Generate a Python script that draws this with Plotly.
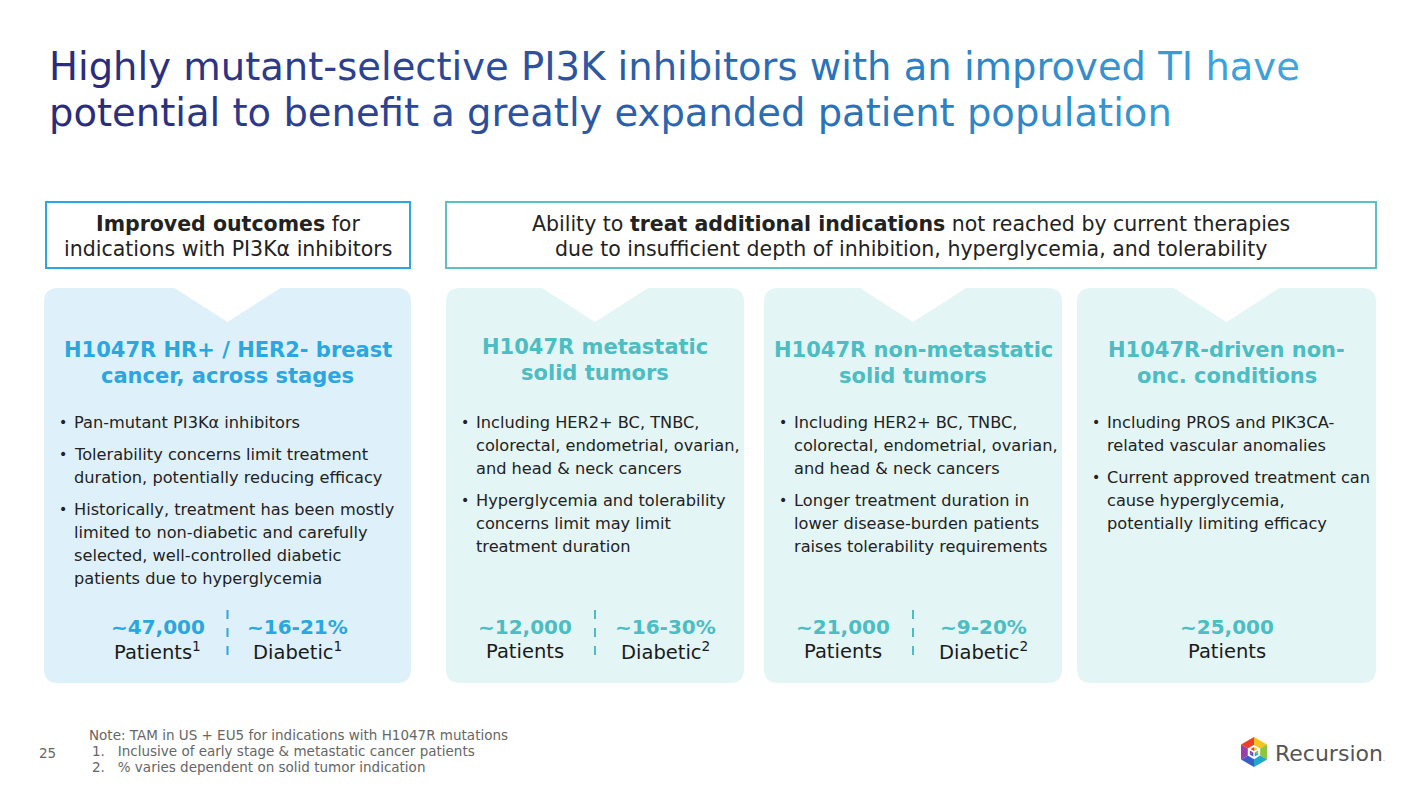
import math
import plotly.graph_objects as go

# ---- slide content ----
title_lines = [
    "Highly mutant-selective PI3K inhibitors with an improved TI have",
    "potential to benefit a greatly expanded patient population",
]

header_texts = [
    ["<b>Improved outcomes</b> for", "indications with PI3Kα inhibitors"],
    ["Ability to <b>treat additional indications</b> not reached by current therapies",
     "due to insufficient depth of inhibition, hyperglycemia, and tolerability"],
]

card_titles = [
    ["H1047R HR+ / HER2- breast", "cancer, across stages"],
    ["H1047R metastatic", "solid tumors"],
    ["H1047R non-metastatic", "solid tumors"],
    ["H1047R-driven non-", "onc. conditions"],
]

card_bullets = [
    [["Pan-mutant PI3Kα inhibitors"],
     ["Tolerability concerns limit treatment", "duration, potentially reducing efficacy"],
     ["Historically, treatment has been mostly", "limited to non-diabetic and carefully",
      "selected, well-controlled diabetic", "patients due to hyperglycemia"]],
    [["Including HER2+ BC, TNBC,", "colorectal, endometrial, ovarian,", "and head & neck cancers"],
     ["Hyperglycemia and tolerability", "concerns limit may limit", "treatment duration"]],
    [["Including HER2+ BC, TNBC,", "colorectal, endometrial, ovarian,", "and head & neck cancers"],
     ["Longer treatment duration in", "lower disease-burden patients", "raises tolerability requirements"]],
    [["Including PROS and PIK3CA-", "related vascular anomalies"],
     ["Current approved treatment can", "cause hyperglycemia,", "potentially limiting efficacy"]],
]

patients = ["~47,000", "~12,000", "~21,000", "~25,000"]
patient_notes = ["1", "", "", ""]
diabetic = ["~16-21%", "~16-30%", "~9-20%", None]
diabetic_notes = ["1", "2", "2", None]

footnotes = [
    "Note: TAM in US + EU5 for indications with H1047R mutations",
    "1.   Inclusive of early stage & metastatic cancer patients",
    "2.   % varies dependent on solid tumor indication",
]
page_number = "25"

# ---- geometry / style ----
W, H = 1420, 788
OFF = 8  # page body margin in the browser
FONT = "DejaVu Sans"
BLUE = "#2AA6E0"
TEAL = "#4BBDC3"
card_x = [(44, 411), (446, 744), (764, 1062), (1077, 1376)]
card_y = (288, 683)
card_fill = ["#DEF1FB", "#E4F5F6", "#E4F5F6", "#E4F5F6"]
card_accent = [BLUE, TEAL, TEAL, TEAL]
card_title_y = [350, 347, 350, 350]

shapes = []
annotations = []


def text(x, y, s, size, color="#222222", anchor="left", bold=False):
    if bold:
        s = "<b>" + s + "</b>"
    annotations.append(dict(
        x=x, y=y, xref="x", yref="y", text=s, showarrow=False,
        xanchor=anchor, yanchor="middle",
        font=dict(family=FONT, size=size, color=color)))


def hex2rgb(c):
    return [int(c[i:i + 2], 16) for i in (1, 3, 5)]


grad_stops = [(50, "#2B2A78"), (520, "#2D4E9C"), (900, "#2A78BC"), (1320, "#3EA8DE")]


def grad(x):
    if x <= grad_stops[0][0]:
        return grad_stops[0][1]
    for (xa, ca), (xb, cb) in zip(grad_stops, grad_stops[1:]):
        if x <= xb:
            t = (x - xa) / (xb - xa)
            a, b = hex2rgb(ca), hex2rgb(cb)
            return "#" + "".join("%02x" % round(a[k] + (b[k] - a[k]) * t) for k in range(3))
    return grad_stops[-1][1]


# title with horizontal gradient, coloured in small chunks
char_w = 19.8
chunk = 3
for li, line in enumerate(title_lines):
    parts = []
    for p in range(0, len(line), chunk):
        piece = line[p:p + chunk]
        cx = 50 + (p + len(piece) / 2) * char_w
        parts.append('<span style="color:%s">%s</span>' % (grad(cx), piece))
    text(47, 66 + li * 46, "".join(parts), 38.5)

# header boxes
for (x0, x1), col, lines in zip([(46, 410), (446, 1376)], [BLUE, "#5CC0C4"], header_texts):
    shapes.append(dict(type="rect", xref="x", yref="y", x0=x0, x1=x1, y0=202, y1=268,
                       line=dict(color=col, width=2), fillcolor="white"))
    for k, s in enumerate(lines):
        text((x0 + x1) / 2, 224 + k * 25, s, 20.5, anchor="center")

# cards
r, nw, nd = 14, 53, 34
for i, (x0, x1) in enumerate(card_x):
    y0, y1 = card_y
    cx = (x0 + x1) / 2
    path = (f"M {x0 + r},{y0} L {cx - nw},{y0} L {cx},{y0 + nd} L {cx + nw},{y0} "
            f"L {x1 - r},{y0} Q {x1},{y0} {x1},{y0 + r} L {x1},{y1 - r} Q {x1},{y1} {x1 - r},{y1} "
            f"L {x0 + r},{y1} Q {x0},{y1} {x0},{y1 - r} L {x0},{y0 + r} Q {x0},{y0} {x0 + r},{y0} Z")
    shapes.append(dict(type="path", path=path, xref="x", yref="y",
                       fillcolor=card_fill[i], line=dict(width=0), layer="below"))

    for k, s in enumerate(card_titles[i]):
        text(cx, card_title_y[i] + k * 26, s, 21, color=card_accent[i], anchor="center", bold=True)

    y = 422
    for bullet in card_bullets[i]:
        text(x0 + 13, y, "•", 14)
        for s in bullet:
            text(x0 + 28, y, s, 16.2)
            y += 23
        y += 9

    if diabetic[i] is None:
        text(cx, 627, patients[i], 20, color=card_accent[i], anchor="center", bold=True)
        text(cx, 651, "Patients", 19.5, color="#1a1a1a", anchor="center")
    else:
        lx, rx = cx - 70, cx + 70
        text(lx, 627, patients[i], 20, color=card_accent[i], anchor="center", bold=True)
        lab = "Patients" + ("<sup>%s</sup>" % patient_notes[i] if patient_notes[i] else "")
        text(lx, 651, lab, 19.5, color="#1a1a1a", anchor="center")
        text(rx, 627, diabetic[i], 20, color=card_accent[i], anchor="center", bold=True)
        text(rx, 651, "Diabetic<sup>%s</sup>" % diabetic_notes[i], 19.5, color="#1a1a1a", anchor="center")
        shapes.append(dict(type="line", xref="x", yref="y", x0=cx, x1=cx, y0=610, y1=658,
                           line=dict(color=card_accent[i], width=2, dash="dash")))

# footer
for k, s in enumerate(footnotes):
    text(87 if k == 0 else 90, 735 + k * 16, s, 13.5, color="#666666")
text(37, 753, page_number, 13.5, color="#666666")

# logo: rainbow hexagon + wordmark
hx, hy, hr = 1254, 752, 15
hex_cols = ["#F7C21B", "#8CC63F", "#1FA8C9", "#3B5CC4", "#9B3FA8", "#E8412C"]
pts = [(hx + hr * math.sin(math.radians(60 * k)), hy - hr * math.cos(math.radians(60 * k))) for k in range(7)]
for k in range(6):
    (ax, ay), (bx, by) = pts[k], pts[k + 1]
    shapes.append(dict(type="path", xref="x", yref="y", fillcolor=hex_cols[k], line=dict(width=0),
                       path=f"M {hx},{hy} L {ax:.1f},{ay:.1f} L {bx:.1f},{by:.1f} Z"))
ir = 6
ipts = [(hx + ir * math.sin(math.radians(60 * k)), hy - ir * math.cos(math.radians(60 * k))) for k in range(6)]
shapes.append(dict(type="path", xref="x", yref="y", fillcolor="rgba(0,0,0,0)",
                   line=dict(color="white", width=2),
                   path="M " + " L ".join(f"{a:.1f},{b:.1f}" for a, b in ipts) + " Z"))
shapes.append(dict(type="path", xref="x", yref="y", fillcolor="rgba(0,0,0,0)",
                   line=dict(color="white", width=1.5),
                   path=f"M {ipts[1][0]:.1f},{ipts[1][1]:.1f} L {hx},{hy} L {ipts[5][0]:.1f},{ipts[5][1]:.1f} "
                        f"M {hx},{hy} L {ipts[3][0]:.1f},{ipts[3][1]:.1f}"))
text(1273, 753, "Recursion<span style='font-size:6px'>.</span>", 22, color="#555555")

fig = go.Figure()
fig.update_layout(
    width=W, height=H, margin=dict(l=0, r=0, t=0, b=0),
    paper_bgcolor="white", plot_bgcolor="white",
    xaxis=dict(range=[OFF, W + OFF], visible=False, fixedrange=True),
    yaxis=dict(range=[H + OFF, OFF], visible=False, fixedrange=True),
    shapes=shapes, annotations=annotations, showlegend=False,
)
fig.write_html("out.html")
